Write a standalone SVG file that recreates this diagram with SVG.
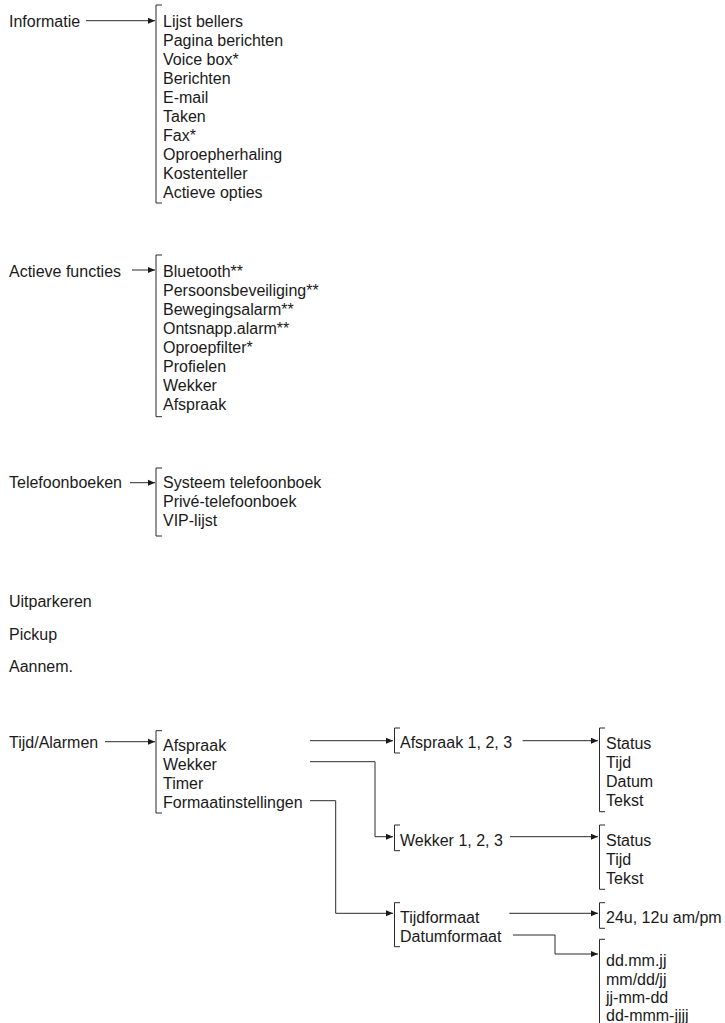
<svg xmlns="http://www.w3.org/2000/svg" width="725" height="1023" viewBox="0 0 725 1023">
<style>
text{font-family:"Liberation Sans",Arial,sans-serif;font-size:16px;fill:#1a1a1a}
.br{fill:none;stroke:#2a2a2a;stroke-width:1}
.cn{fill:none;stroke:#2a2a2a;stroke-width:1}
</style>
<defs>
<marker id="ah" markerUnits="userSpaceOnUse" markerWidth="8" markerHeight="8" refX="7" refY="4" orient="auto">
<path d="M0,1 L7,4 L0,7 Z" fill="#1a1a1a"/>
</marker>
</defs>
<rect width="725" height="1023" fill="#fff"/>

<g id="connectors">
<path class="cn" d="M86,20.7 H155" marker-end="url(#ah)"/>
<path class="cn" d="M132,270 H155" marker-end="url(#ah)"/>
<path class="cn" d="M130,482.7 H155" marker-end="url(#ah)"/>
<path class="cn" d="M105,741.7 H155" marker-end="url(#ah)"/>
<path class="cn" d="M310,740.7 H393" marker-end="url(#ah)"/>
<path class="cn" d="M310,761.7 H375 V836.7 H393" marker-end="url(#ah)"/>
<path class="cn" d="M310,800.7 H335.7 V913.3 H393" marker-end="url(#ah)"/>
<path class="cn" d="M522.7,740.7 H598" marker-end="url(#ah)"/>
<path class="cn" d="M510,836.7 H598" marker-end="url(#ah)"/>
<path class="cn" d="M509.3,913.3 H598" marker-end="url(#ah)"/>
<path class="cn" d="M513,935 H555 V954 H598" marker-end="url(#ah)"/>
</g>

<g id="informatie"><text x="9" y="26.5">Informatie</text></g>
<g id="informatie-menu">
<path class="br" d="M162,5 H156 V203 H162"/>
<text x="163" y="26.5">Lijst bellers</text>
<text x="163" y="45.5">Pagina berichten</text>
<text x="163" y="64.5">Voice box*</text>
<text x="163" y="83.5">Berichten</text>
<text x="163" y="102.5">E-mail</text>
<text x="163" y="121.5">Taken</text>
<text x="163" y="140.5">Fax*</text>
<text x="163" y="159.5">Oproepherhaling</text>
<text x="163" y="178.5">Kostenteller</text>
<text x="163" y="197.5">Actieve opties</text>
</g>

<g id="actieve-functies"><text x="9" y="276.5">Actieve functies</text></g>
<g id="actieve-functies-menu">
<path class="br" d="M162,255 H156 V416.7 H162"/>
<text x="163" y="276.5">Bluetooth**</text>
<text x="163" y="295.6">Persoonsbeveiliging**</text>
<text x="163" y="314.7">Bewegingsalarm**</text>
<text x="163" y="333.8">Ontsnapp.alarm**</text>
<text x="163" y="352.9">Oproepfilter*</text>
<text x="163" y="372">Profielen</text>
<text x="163" y="391.1">Wekker</text>
<text x="163" y="410.2">Afspraak</text>
</g>

<g id="telefoonboeken"><text x="9" y="488">Telefoonboeken</text></g>
<g id="telefoonboeken-menu">
<path class="br" d="M162,468 H156 V536 H162"/>
<text x="163" y="488">Systeem telefoonboek</text>
<text x="163" y="507">Privé-telefoonboek</text>
<text x="163" y="526">VIP-lijst</text>
</g>

<g id="uitparkeren"><text x="9" y="607">Uitparkeren</text></g>
<g id="pickup"><text x="9" y="639.5">Pickup</text></g>
<g id="aannem"><text x="9" y="672">Aannem.</text></g>

<g id="tijd-alarmen"><text x="9" y="748">Tijd/Alarmen</text></g>
<g id="tijd-alarmen-menu">
<path class="br" d="M162,730.7 H156 V813 H162"/>
<text x="163" y="750.7">Afspraak</text>
<text x="163" y="770">Wekker</text>
<text x="163" y="789.2">Timer</text>
<text x="163" y="808.4">Formaatinstellingen</text>
</g>

<g id="afspraak-123">
<path class="br" d="M400,728 H394.5 V753 H400"/>
<text x="400" y="748.3">Afspraak 1, 2, 3</text>
</g>
<g id="afspraak-velden">
<path class="br" d="M605,728 H599.5 V811.7 H605"/>
<text x="606" y="749.3">Status</text>
<text x="606" y="768.3">Tijd</text>
<text x="606" y="787.3">Datum</text>
<text x="606" y="806.3">Tekst</text>
</g>

<g id="wekker-123">
<path class="br" d="M400,825 H394.5 V850.7 H400"/>
<text x="400" y="845.7">Wekker 1, 2, 3</text>
</g>
<g id="wekker-velden">
<path class="br" d="M605,825 H599.5 V889.3 H605"/>
<text x="606" y="845.5">Status</text>
<text x="606" y="864.5">Tijd</text>
<text x="606" y="883.5">Tekst</text>
</g>

<g id="formaat-menu">
<path class="br" d="M400,902.7 H394.5 V946.7 H400"/>
<text x="400" y="922.7">Tijdformaat</text>
<text x="400" y="942">Datumformaat</text>
</g>
<g id="tijdformaat-opties">
<path class="br" d="M605,902.7 H599.5 V928.3 H605"/>
<text x="606" y="922.7">24u, 12u am/pm</text>
</g>
<g id="datumformaat-opties">
<path class="br" d="M605,939.3 H599.5 V1024"/>
<text x="606" y="966.3">dd.mm.jj</text>
<text x="606" y="984.6">mm/dd/jj</text>
<text x="606" y="1002.9">jj-mm-dd</text>
<text x="606" y="1021.2">dd-mmm-jjjj</text>
</g>
</svg>
